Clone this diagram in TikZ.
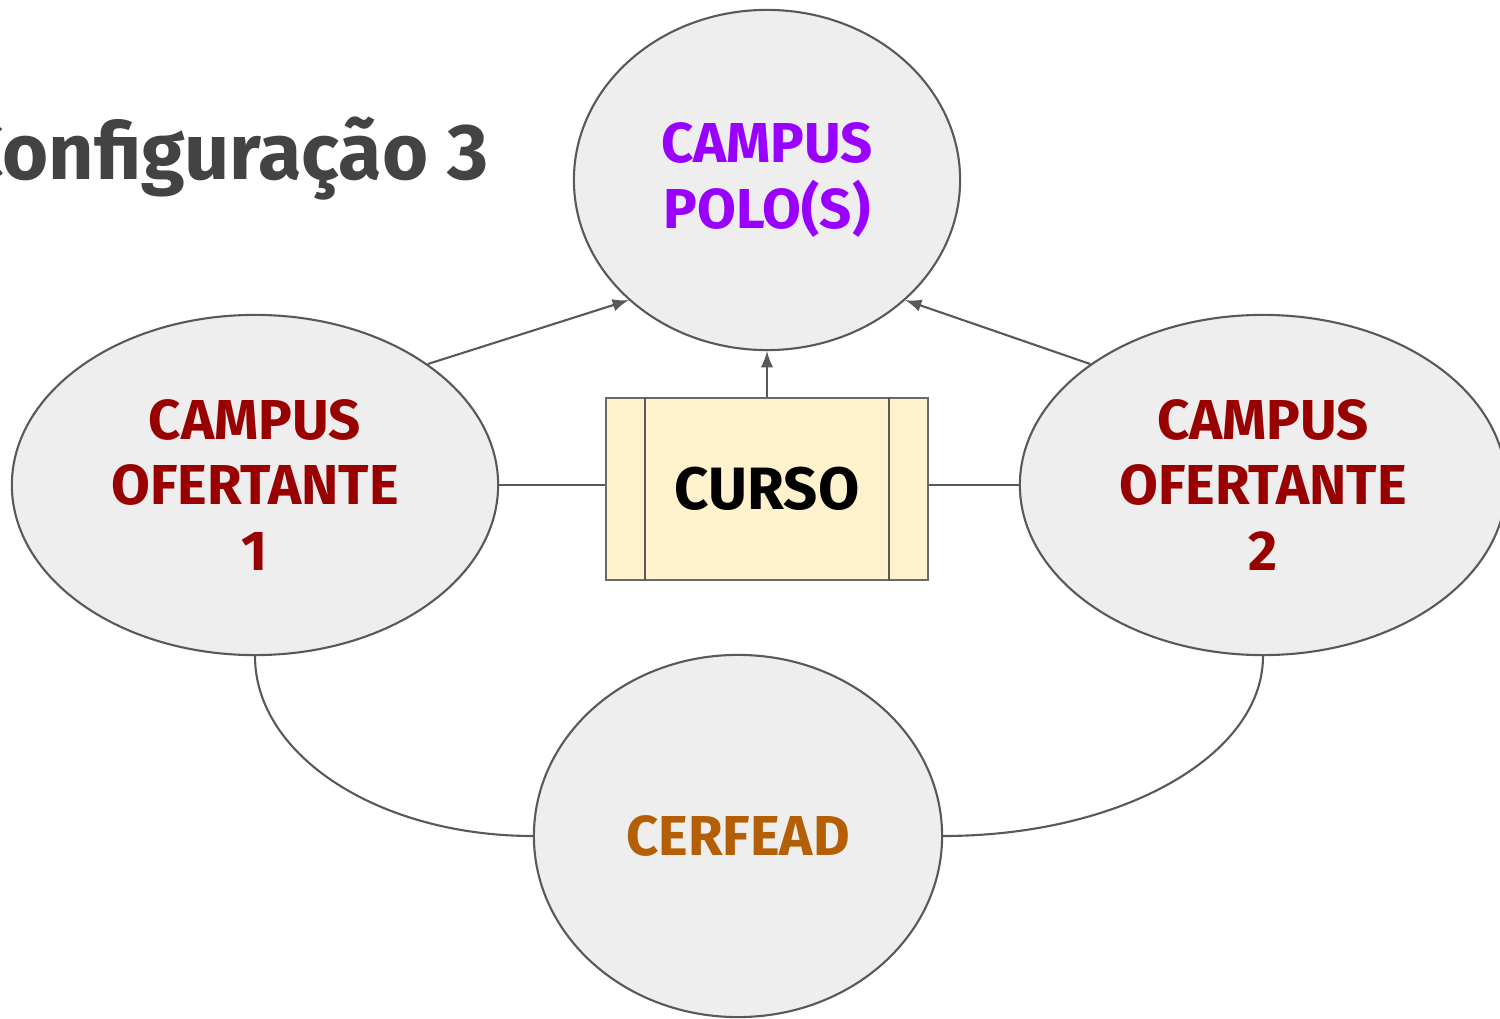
\documentclass[tikz,border=0pt]{standalone}
\usepackage{fontspec}
\setmainfont{Fira Sans}
\usetikzlibrary{shapes.geometric}
\definecolor{rand}{HTML}{595959}
\definecolor{feld}{HTML}{EEEEEE}
\definecolor{kasten}{HTML}{FFF2CC}
\definecolor{lila}{HTML}{9900FF}
\definecolor{dunkelrot}{HTML}{990000}
\definecolor{orange}{HTML}{B45F06}
\definecolor{titel}{HTML}{434343}
\begin{document}
\begin{tikzpicture}[x=0.01cm, y=-0.01cm,
	kreis/.style={ellipse, draw=rand, fill=feld, line width=0.6pt, inner sep=0pt, align=center, font=\fontsize{16}{18.5}\selectfont\bfseries},
	linie/.style={draw=rand, line width=0.6pt},
	pfeil/.style={linie, ->, >=latex}]
	\useasboundingbox (0,0) rectangle (1500,1019);
	\node[anchor=base east, inner sep=0pt, text=titel, font=\fontsize{22.5}{26}\selectfont\bfseries] (titel) at (489,180) {Configuração 3};
	\node[kreis, minimum width=3.86cm, minimum height=3.4cm, text=lila] (polo) at (767,180) {CAMPUS\\POLO(S)};
	\node[kreis, minimum width=4.86cm, minimum height=3.4cm, text=dunkelrot] (of1) at (255,485) {CAMPUS\\OFERTANTE\\1};
	\node[kreis, minimum width=4.86cm, minimum height=3.4cm, text=dunkelrot] (of2) at (1263,485) {CAMPUS\\OFERTANTE\\2};
	\node[kreis, minimum width=4.08cm, minimum height=3.62cm, text=orange] (cerf) at (738,836) {CERFEAD};
	\node[linie, draw=rand!90, fill=kasten, minimum width=3.22cm, minimum height=1.82cm, font=\fontsize{17}{20}\selectfont\bfseries] (curso) at (767,489) {CURSO};
	\draw[linie] ([xshift=0.4cm]curso.north west) -- ([xshift=0.4cm]curso.south west);%Streifen links
	\draw[linie] ([xshift=-0.4cm]curso.north east) -- ([xshift=-0.4cm]curso.south east);%Streifen rechts
	\draw[pfeil] (curso.north) -- (polo.south);
	\draw[pfeil] (of1.35) -- (polo.221);
	\draw[pfeil] (of2.145) -- (polo.319);
	\draw[linie] (of1.east) -- (of1.east -| curso.west);
	\draw[linie] (of2.west) -- (of2.west -| curso.east);
	\draw[linie] (of1.south) .. controls +(0,100) and +(-153,0) .. (cerf.west);
	\draw[linie] (of2.south) .. controls +(0,100) and +(177,0) .. (cerf.east);
\end{tikzpicture}
\end{document}
